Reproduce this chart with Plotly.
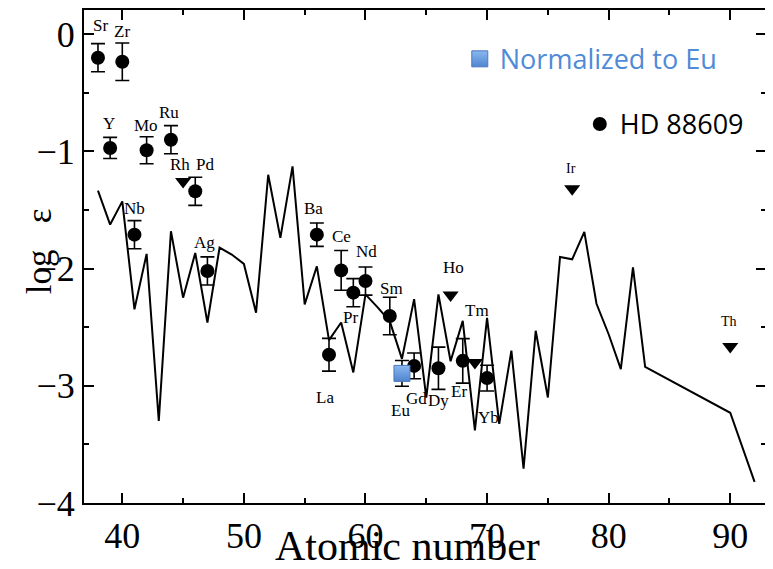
import plotly.graph_objects as go

# ---------------- data ----------------
# HD 88609 measured abundances (filled circles with error bars)
obs_z = [38, 39, 40, 41, 42, 44, 46, 47, 56, 57, 58, 59, 60, 62, 64, 66, 68, 70]
obs_logeps = [-0.20, -0.97, -0.235, -1.71, -0.99, -0.90, -1.34, -2.02, -1.71, -2.735,
              -2.015, -2.205, -2.106, -2.404, -2.83, -2.85, -2.787, -2.934]
obs_err = [0.12, 0.09, 0.16, 0.12, 0.115, 0.12, 0.12, 0.12, 0.10, 0.14,
           0.17, 0.12, 0.12, 0.16, 0.11, 0.18, 0.19, 0.11]

# upper limits (down triangles)
lim_z = [45, 67, 69, 77, 90]
lim_logeps = [-1.256, -2.225, -2.80, -1.318, -2.665]

# normalisation point (Eu)
eu_z = [63]
eu_logeps = [-2.894]
eu_err = [0.11]

# scaled r-process pattern (solid line)
model_z = [38, 39, 40, 41, 42, 43, 44, 45, 46, 47, 48, 49, 50, 51, 52, 53, 54, 55, 56, 57,
           58, 59, 60, 61, 62, 63, 64, 65, 66, 67, 68, 69, 70, 71, 72, 73, 74, 75, 76, 77,
           78, 79, 80, 81, 82, 83, 90, 92]
model_logeps = [-1.335, -1.624, -1.426, -2.347, -1.874, -3.30, -1.681, -2.248, -1.866, -2.46,
                -1.82, -1.88, -1.96, -2.376, -1.199, -1.738, -1.128, -2.305, -1.98, -2.61,
                -2.46, -2.886, -2.22, -2.33, -2.45, -2.77, -2.26, -3.10, -2.22, -2.79,
                -2.446, -3.38, -2.42, -3.325, -2.70, -3.707, -2.53, -3.10, -1.90, -1.92,
                -1.687, -2.30, -2.56, -2.857, -1.99, -2.838, -3.23, -3.82]

# element labels
label_text = ["Sr", "Zr", "Y", "Mo", "Ru", "Rh", "Pd", "Nb", "Ag", "Ba", "Ce", "Nd", "Pr",
              "Sm", "La", "Eu", "Gd", "Dy", "Er", "Yb", "Ho", "Tm", "Ir", "Th"]
label_x = [38.17, 39.95, 38.93, 41.93, 43.87, 44.75, 46.8, 41.04, 46.8, 55.72, 57.99, 60.1,
           58.79, 62.17, 56.68, 62.85, 64.17, 66.0, 67.65, 70.11, 67.24, 69.16, 76.92, 89.92]
label_y = [0.077, 0.026, -0.76, -0.78, -0.67, -1.114, -1.114, -1.483, -1.78, -1.488, -1.724,
           -1.851, -2.42, -2.168, -3.10, -3.21, -3.11, -3.127, -3.05, -3.27, -1.99, -2.355,
           -1.143, -2.45]
small_labels = ["Ir", "Th"]

x_ticks = [40, 50, 60, 70, 80, 90]
y_ticks = [0, -1, -2, -3, -4]

# ---------------- figure ----------------
SERIF = "Liberation Serif, Times New Roman, serif"
SANS = "Open Sans, Noto Sans, sans-serif"

fig = go.Figure()

fig.add_trace(go.Scatter(
    x=model_z, y=model_logeps, mode="lines",
    line=dict(color="black", width=2), showlegend=False, hoverinfo="skip"))

fig.add_trace(go.Scatter(
    x=obs_z, y=obs_logeps, mode="markers",
    error_y=dict(type="data", array=obs_err, color="black", thickness=1.6, width=7),
    marker=dict(symbol="circle", size=14, color="black"),
    name="HD 88609", legend="legend2"))

fig.add_trace(go.Scatter(
    x=lim_z, y=lim_logeps, mode="markers",
    marker=dict(symbol="triangle-down", size=14, color="black"),
    showlegend=False))

fig.add_trace(go.Scatter(
    x=eu_z, y=eu_logeps, mode="markers",
    error_y=dict(type="data", array=eu_err, color="black", thickness=1.6, width=7),
    marker=dict(symbol="square", size=16, color="#8ab8f0",
                gradient=dict(type="vertical", color="#4f84cf"),
                line=dict(color="#4a78bf", width=1)),
    name="<span style='color:#4f8bd6'>Normalized to Eu</span>", legend="legend"))

for t, lx, ly in zip(label_text, label_x, label_y):
    fig.add_annotation(x=lx, y=ly, text=t, showarrow=False,
                       font=dict(family=SERIF, size=14 if t in small_labels else 17,
                                 color="black"),
                       xanchor="center", yanchor="middle")

# axis titles
fig.add_annotation(xref="paper", yref="paper", x=0.474, y=-0.088, text="Atomic number",
                   showarrow=False, font=dict(family=SERIF, size=42, color="black"),
                   xanchor="center", yanchor="middle")
fig.add_annotation(xref="paper", yref="paper", x=-0.065, y=0.51, text="log   ε",
                   showarrow=False, textangle=-90,
                   font=dict(family=SERIF, size=35, color="black"),
                   xanchor="center", yanchor="middle")

axis_common = dict(
    showline=True, linecolor="black", linewidth=2, mirror="allticks",
    ticks="inside", ticklen=10, tickwidth=2, tickcolor="black",
    showgrid=False, zeroline=False,
    tickfont=dict(family=SERIF, size=36, color="black"),
)

fig.update_xaxes(range=[36.85, 92.94], tickvals=x_ticks,
                 minor=dict(dtick=5, tick0=0, ticks="inside", ticklen=5, tickwidth=2,
                            tickcolor="black", showgrid=False),
                 **axis_common)
fig.update_yaxes(range=[-4, 0.207], tickvals=y_ticks,
                 minor=dict(dtick=0.5, tick0=0, ticks="inside", ticklen=5, tickwidth=2,
                            tickcolor="black", showgrid=False),
                 **axis_common)

# the page body adds an 8 px offset, so the figure is sized to fit the window
fig.update_layout(
    width=765, height=561,
    margin=dict(l=76, r=7, t=0, b=66),
    paper_bgcolor="white", plot_bgcolor="white",
    legend=dict(x=0.551, y=0.9, xanchor="left", yanchor="middle",
                bgcolor="rgba(0,0,0,0)", font=dict(family=SANS, size=27, color="#4f8bd6")),
    legend2=dict(x=0.727, y=0.768, xanchor="left", yanchor="middle",
                 bgcolor="rgba(0,0,0,0)", font=dict(family=SANS, size=27, color="black")),
)

fig.write_html("out.html")
